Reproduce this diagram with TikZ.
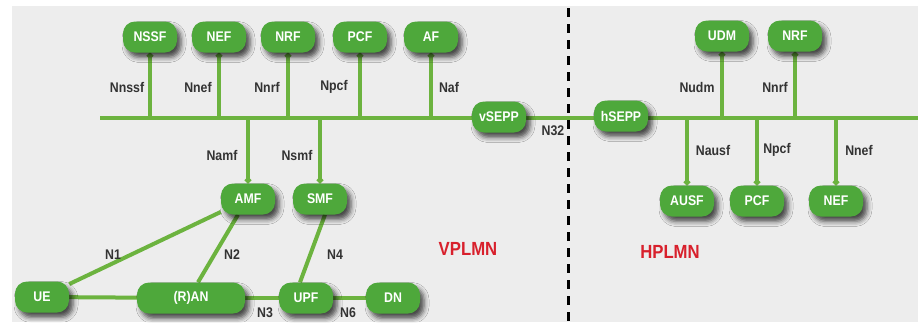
\documentclass[tikz,border=0pt]{standalone}
\usepackage{fontspec}
\setmainfont{Liberation Sans}[FakeStretch=0.88]
\usetikzlibrary{arrows.meta,shadows.blur,backgrounds}
\definecolor{nodegreen}{HTML}{4EA83B}
\definecolor{linegreen}{HTML}{6CB33F}
\definecolor{bgray}{HTML}{EDEDED}
\definecolor{plmnred}{HTML}{D8202C}
\begin{document}
\begin{tikzpicture}[x=1pt,y=-1pt,
 nf/.style={draw=none, fill=nodegreen, text=white, rounded corners=12pt,
   minimum width=54pt, minimum height=31pt, inner sep=0pt,
   font=\fontsize{14}{16}\selectfont\bfseries,
   blur shadow={shadow xshift=4pt, shadow yshift=-5pt, shadow blur radius=5pt, shadow opacity=70}},
 conn/.style={draw=linegreen, line width=4pt},
 stemline/.style={conn, -{Circle[length=6pt]}},
 lbl/.style={font=\fontsize{14}{16}\selectfont\bfseries, text=black!80, inner sep=1pt},
 plmn/.style={font=\fontsize{19}{21}\selectfont\bfseries, text=plmnred}]
\useasboundingbox (0,0) rectangle (918,322);
% nodes
\node[nf] (nssf) at (150,37) {NSSF};
\node[nf] (nef1) at (219,37) {NEF};
\node[nf] (nrf1) at (288,37) {NRF};
\node[nf] (pcf1) at (360,37) {PCF};
\node[nf] (af) at (431,37) {AF};
\node[nf] (udm) at (722,36) {UDM};
\node[nf] (nrf2) at (795,36) {NRF};
\node[nf] (vsepp) at (499,117) {vSEPP};
\node[nf] (hsepp) at (621,116) {hSEPP};
\node[nf] (amf) at (248,199) {AMF};
\node[nf] (smf) at (320,199) {SMF};
\node[nf] (ausf) at (687,201) {AUSF};
\node[nf] (pcf2) at (757,201) {PCF};
\node[nf] (nef2) at (836,201) {NEF};
\node[nf] (ue) at (42,297) {UE};
\node[nf, minimum width=108pt] (ran) at (191,298) {(R)AN};
\node[nf] (upf) at (306,298) {UPF};
\node[nf] (dn) at (393,298) {DN};
\coordinate (busL) at (100,118);
\coordinate (busR) at (918,118);
\coordinate (dtop) at (568,8);
\coordinate (dbot) at (568,322);
% labels
\node[lbl] (lnssf) at (127,87) {Nnssf};
\node[lbl] (lnef1) at (198,87) {Nnef};
\node[lbl] (lnrf1) at (267,87) {Nnrf};
\node[lbl] (lpcf1) at (334,87) {Npcf};
\node[lbl] (laf) at (449,87) {Naf};
\node[lbl] (lamf) at (222,155) {Namf};
\node[lbl] (lsmf) at (297,155) {Nsmf};
\node[lbl] (ln32) at (553,131) {N32};
\node[lbl] (ludm) at (697,87) {Nudm};
\node[lbl] (lnrf2) at (775,87) {Nnrf};
\node[lbl] (lausf) at (713,150) {Nausf};
\node[lbl] (lpcf2) at (777,150) {Npcf};
\node[lbl] (lnef2) at (859,150) {Nnef};
\node[lbl] (ln1) at (113,255) {N1};
\node[lbl] (ln2) at (232,255) {N2};
\node[lbl] (ln4) at (335,255) {N4};
\node[lbl] (ln3) at (265,313) {N3};
\node[lbl] (ln6) at (348,313) {N6};
\node[plmn] (vplmn) at (468,249) {VPLMN};
\node[plmn] (hplmn) at (670,252) {HPLMN};
\begin{pgfonlayer}{background}
\fill[bgray] (12,6) rectangle (918,322);
\draw[black, line width=3pt, dash pattern=on 9pt off 7pt] (dtop) -- (dbot);
\draw[conn] (busL) -- (busR);
\draw[stemline] (nssf.south |- busL) -- (nssf.south);
\draw[stemline] (nef1.south |- busL) -- (nef1.south);
\draw[stemline] (nrf1.south |- busL) -- (nrf1.south);
\draw[stemline] (pcf1.south |- busL) -- (pcf1.south);
\draw[stemline] (af.south |- busL) -- (af.south);
\draw[stemline] (udm.south |- busL) -- (udm.south);
\draw[stemline] (nrf2.south |- busL) -- (nrf2.south);
\draw[stemline] (amf.north |- busL) -- (amf.north);
\draw[stemline] (smf.north |- busL) -- (smf.north);
\draw[stemline] (ausf.north |- busL) -- (ausf.north);
\draw[stemline] (pcf2.north |- busL) -- (pcf2.north);
\draw[stemline] (nef2.north |- busL) -- (nef2.north);
\draw[conn] (ue) -- (ran);
\draw[conn] (ran) -- (upf);
\draw[conn] (upf) -- (dn);
\draw[conn] (ue) -- (amf);
\draw[conn] ([xshift=7pt]ran.north) -- ([xshift=-10pt]amf.south);
\draw[conn] ([xshift=-6pt]upf.north) -- ([xshift=5pt]smf.south);
\end{pgfonlayer}
\end{tikzpicture}
\end{document}
